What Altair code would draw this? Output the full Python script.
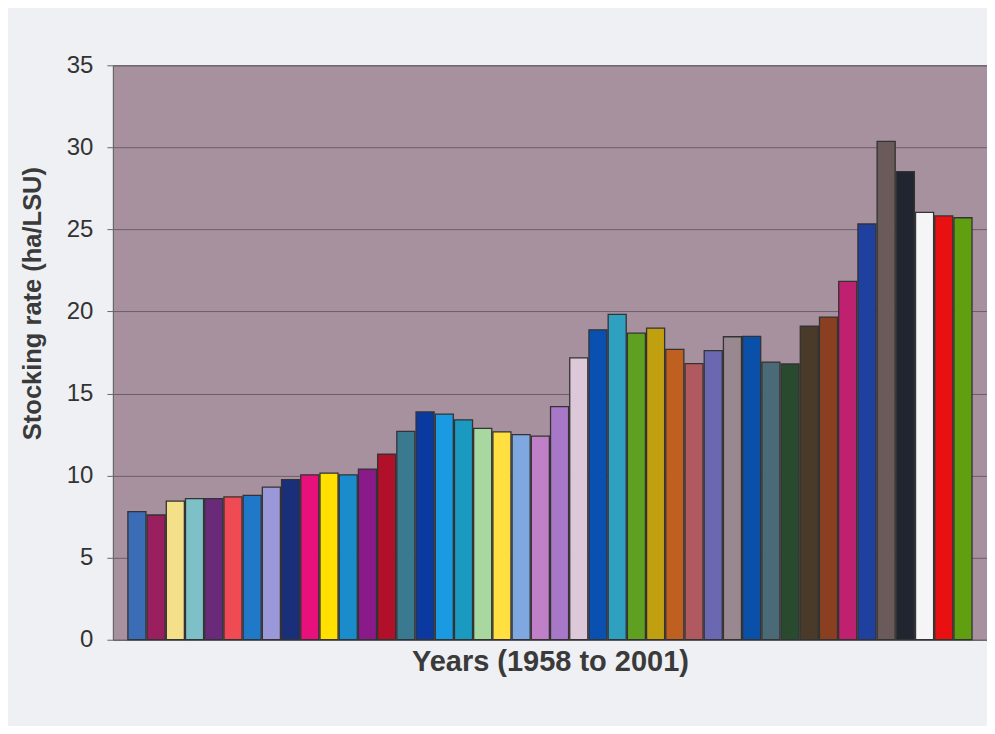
import altair as alt
import pandas as pd

years = list(range(1958, 2002))
values = [7.8, 7.6, 8.45, 8.6, 8.6, 8.7, 8.8, 9.3, 9.75, 10.05, 10.15, 10.05, 10.4, 11.3,
          12.7, 13.88, 13.75, 13.4, 12.88, 12.66, 12.5, 12.4, 14.2, 17.17, 18.88, 19.82,
          18.68, 18.99, 17.69, 16.82, 17.62, 18.46, 18.48, 16.92, 16.8, 19.1, 19.66,
          21.83, 25.33, 30.37, 28.52, 26.04, 25.82, 25.71]
colors = ["#3a6db5", "#9a1f5e", "#f5e08a", "#7ec0c8", "#6a2a7a", "#f04a55", "#1f78c8",
          "#9a98d8", "#1a2f7a", "#e8107a", "#ffe000", "#1a8ccc", "#8a1a8a", "#b0102a",
          "#3a7a90", "#0a3aa0", "#1a9ae0", "#1a9ac0", "#a8d8a0", "#ffe040", "#80a8e0",
          "#c080c8", "#a878c8", "#dcc8d8", "#0a50b0", "#30a0c0", "#60a020", "#c0a010",
          "#c06020", "#b05a60", "#6a68b0", "#9a8890", "#0a50a8", "#4a6a78", "#2a4a30",
          "#4a3a2a", "#8a4020", "#c02070", "#2040a0", "#6a5a5a", "#202530", "#f5f5f8",
          "#e81010", "#60a010"]

df = pd.DataFrame({"year": [str(y) for y in years], "value": values})

chart = alt.Chart(df).mark_bar(stroke="#333333", strokeWidth=1.3).encode(
    x=alt.X("year:N", sort=None,
            scale=alt.Scale(paddingInner=0.06, paddingOuter=0.78),
            axis=alt.Axis(title="Years (1958 to 2001)", labels=False, ticks=False,
                          domain=False, titlePadding=8, titleFontSize=29,
                          titleFont="Liberation Sans", titleFontWeight="bold",
                          titleColor="#3a3a3a")),
    y=alt.Y("value:Q", scale=alt.Scale(domain=[0, 35]),
            axis=alt.Axis(title="Stocking rate (ha/LSU)", values=[0, 5, 10, 15, 20, 25, 30, 35],
                          tickSize=6, tickColor="#666666", labelPadding=14,
                          labelFontSize=24, labelFont="Liberation Sans", labelColor="#333333",
                          titleFontSize=25.5, titleFont="Liberation Sans", titleFontWeight="bold",
                          titleColor="#3a3a3a", titlePadding=21, titleY=238,
                          gridColor="#5a5060", gridWidth=0.8, domainColor="#666666")),
    color=alt.Color("year:N", sort=None, scale=alt.Scale(domain=[str(y) for y in years], range=colors),
                    legend=None),
).properties(
    width=875, height=575,
    background="#eef0f3",
    autosize=alt.AutoSizeParams(type="none"),
    padding={"left": 105, "top": 57, "right": 0, "bottom": 86},
).configure_view(
    fill="#a8919f", stroke="#666666", strokeWidth=1
)

chart.save("out.html", embed_options={"renderer": "svg", "actions": False})
